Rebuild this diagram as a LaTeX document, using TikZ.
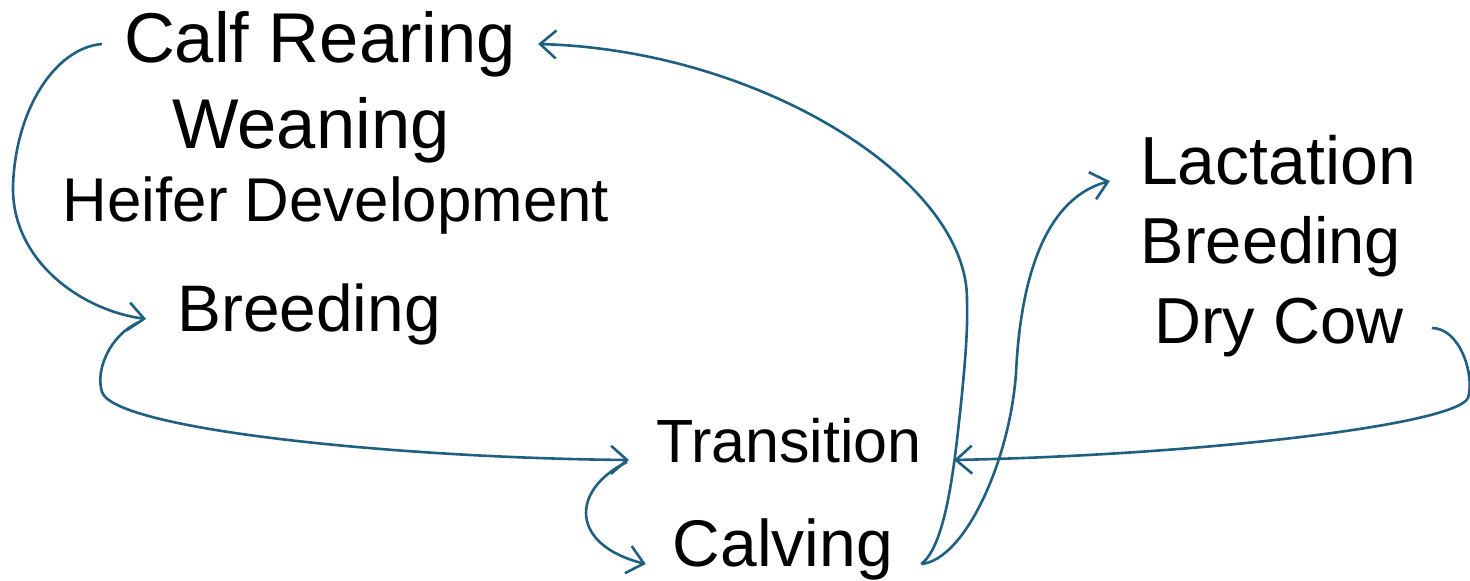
\documentclass[tikz,border=0pt]{standalone}
\usepackage{fontspec}
\setmainfont{Liberation Sans}
\usetikzlibrary{arrows.meta}
\definecolor{linkblue}{RGB}{31,96,130}
\begin{document}
\begin{tikzpicture}[x=1pt,y=-1pt,
  lbl/.style={anchor=base, inner sep=0pt, text=black},
  link/.style={draw=linkblue, line width=2.6pt, -{Straight Barb[length=16pt,width=28pt]}}]
\useasboundingbox (0,0) rectangle (1470,581);
\node[lbl, font=\fontsize{70.5}{84}\selectfont] (calf) at (320,62) {Calf Rearing};
\node[lbl, font=\fontsize{70.5}{82}\selectfont] (wean) at (311,148) {Weaning};
\node[lbl, font=\fontsize{61.8}{72}\selectfont] (heifer) at (336,221) {Heifer Development};
\node[lbl, font=\fontsize{65.8}{78}\selectfont] (breedL) at (309,331) {Breeding};
\node[lbl, font=\fontsize{61}{72}\selectfont] (trans) at (789,462) {Transition};
\node[lbl, font=\fontsize{66}{78}\selectfont] (calving) at (783,566) {Calving};
\node[lbl, font=\fontsize{68}{79}\selectfont] (lact) at (1278,184) {Lactation};
\node[lbl, font=\fontsize{65}{78}\selectfont] (breedR) at (1271,263) {Breeding};
\node[lbl, font=\fontsize{65}{78}\selectfont] (dry) at (1279,343) {Dry Cow};
% Calf Rearing -> Breeding
\draw[link] ([shift={(-22,-18)}]calf.base west) .. controls (55,48) and (15,110) .. (13,187)
  .. controls (12,260) and (80,310) .. ([shift={(-31,-12)}]breedL.base west);
% Breeding -> Transition
\draw[link] ([shift={(-38,-9)}]breedL.base west) .. controls (110,335) and (95,370) .. (102,392)
  .. controls (115,430) and (400,458) .. ([shift={(-27,-2)}]trans.base west);
% Transition -> Calving
\draw[link] ([shift={(-29,0)}]trans.base west) .. controls (570,490) and (570,545) .. ([shift={(-27,-2)}]calving.base west);
% Calving -> Calf Rearing
\draw[link] ([shift={(28,-2)}]calving.base east) .. controls (940,550) and (950,500) .. (957,440)
  .. controls (965,370) and (968,330) .. (967,300)
  .. controls (968,180) and (760,50) .. ([shift={(22,-18)}]calf.base east);
% Calving -> Lactation
\draw[link] ([shift={(28,-2)}]calving.base east) .. controls (965,560) and (1010,460) .. (1016,373)
  .. controls (1020,290) and (1040,200) .. ([shift={(-30,-3)}]lact.base west);
% Dry Cow -> Transition
\draw[link] ([shift={(28,-15)}]dry.base east) .. controls (1460,328) and (1475,375) .. (1468,398)
  .. controls (1455,425) and (1200,455) .. ([shift={(32,-2)}]trans.base east);
\end{tikzpicture}
\end{document}
